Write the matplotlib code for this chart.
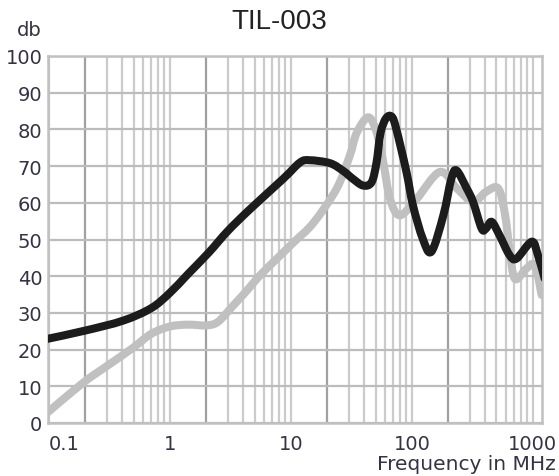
import numpy as np
import matplotlib.pyplot as plt
from matplotlib.path import Path
from matplotlib.patches import PathPatch
from matplotlib.ticker import FixedLocator, NullFormatter

# Values (frequency in MHz, level in db)
black_f = [0.096, 0.2, 0.41, 0.7, 1.0, 1.4, 2.1, 3.0, 4.6, 8.6, 11.9, 14.3, 21,
           27, 32.6, 39.5, 46.4, 51, 55, 61, 68, 74, 90, 102, 123, 145, 182, 212, 234,
           283, 320, 377, 410, 457, 533, 640, 733, 978, 1100, 1250]
black_db = [22.9, 25.2, 27.9, 31.3, 35.5, 40.5, 46.5, 52.3, 58.3, 66.5, 71.0, 71.6,
            70.8, 68.7, 66.5, 64.7, 65.6, 71.0, 79.0, 83.0, 83.5, 80.3, 68.5, 59.3, 50.2,
            46.7, 56.6, 66.6, 68.8, 64.0, 60.3, 53.0, 53.0, 54.8, 51.0, 45.8, 44.8, 49.4,
            45.8, 39.4]

gray_f = [0.096, 0.19, 0.3, 0.49, 0.7, 1.0, 1.4, 2.0, 2.5, 3.33, 4.3, 5.5, 7.6, 10.5,
          15.3, 23.8, 30.6, 34.9, 43.5, 51, 58, 66, 79.5, 109, 170, 234, 320, 410, 518,
          590, 640, 710, 880, 1040, 1180]
gray_db = [2.7, 10.9, 15.5, 20.4, 24.3, 26.3, 26.8, 26.6, 27.6, 32.0, 36.0, 40.1, 44.7,
           49.2, 54.5, 63.8, 72.8, 79.0, 83.3, 79.3, 71.0, 61.0, 56.6, 61.0, 68.4, 64.0,
           60.3, 63.0, 63.9, 56.6, 47.5, 39.3, 42.0, 43.0, 34.9]

x_ticks = [0.1, 1, 10, 100, 1000]
x_tick_labels = ['0.1', '1', '10', '100', '1000']
y_ticks = list(range(0, 101, 10))


def smooth_path(f, db):
    # Catmull-Rom through the read points, as cubic Bezier segments in log space
    u = np.log10(f) * 121.0
    v = np.asarray(db) * 3.67
    p = np.column_stack([u, v])
    p = np.vstack([p[0], p, p[-1]])
    verts = [p[1]]
    codes = [Path.MOVETO]
    for i in range(1, len(p) - 2):
        c1 = p[i] + (p[i + 1] - p[i - 1]) / 6.0
        c2 = p[i + 1] - (p[i + 2] - p[i]) / 6.0
        verts += [c1, c2, p[i + 1]]
        codes += [Path.CURVE4] * 3
    verts = np.array(verts)
    verts[:, 0] = 10 ** (verts[:, 0] / 121.0)
    verts[:, 1] = verts[:, 1] / 3.67
    return Path(verts, codes)


fig = plt.figure(figsize=(5.59, 4.77), dpi=100)
ax = fig.add_axes([48 / 559, 1 - 424 / 477, (542 - 48) / 559, (424 - 57) / 477])

ax.set_xscale('log')
ax.set_xlim(0.098, 1190)
ax.set_ylim(0, 100)

# grid: minor lines light, the 2x lines darker, like the original sheet
minor = [m * 10.0 ** e for e in range(-1, 4) for m in range(1, 10)]
for val in minor:
    if val < 0.098 or val > 1190:
        continue
    lead = round(val / 10 ** np.floor(np.log10(val) + 1e-9))
    c = '#a0a0a0' if lead == 2 else '#cbcbcb'
    ax.axvline(val, color=c, lw=1.6, zorder=1)
for y in y_ticks:
    ax.axhline(y, color='#bcbcbc', lw=1.6, zorder=1)

ax.add_patch(PathPatch(smooth_path(gray_f, gray_db), fill=False, ec='#c0c0c0',
                       lw=5.8, capstyle='round', joinstyle='round', zorder=3))
ax.add_patch(PathPatch(smooth_path(black_f, black_db), fill=False, ec='#1c1c1c',
                       lw=5.8, capstyle='round', joinstyle='round', zorder=4))

ax.xaxis.set_major_locator(FixedLocator(x_ticks))
ax.xaxis.set_minor_formatter(NullFormatter())
ax.set_xticks(x_ticks, labels=x_tick_labels)
ax.set_yticks(y_ticks)
ax.tick_params(axis='both', which='both', length=0, labelsize=14, colors='#333344')
ax.tick_params(axis='x', pad=8)
ax.tick_params(axis='y', pad=4)
ax.get_xticklabels()[0].set_ha('left')

for s in ax.spines.values():
    s.set_color('#c0c0c0')
    s.set_linewidth(1.8)

fig.text(0.5, 1 - 22 / 477, 'TIL-003', ha='center', va='center', fontsize=20,
         family='Liberation Sans', color='#222222')
fig.text(29 / 559, 1 - 31 / 477, 'db', ha='center', va='center', fontsize=14,
         color='#333344')
fig.text(556 / 559, 1 - 465 / 477, 'Frequency in MHz', ha='right', va='center',
         fontsize=14.5, color='#333344')

fig.savefig('out.png', dpi=100)
